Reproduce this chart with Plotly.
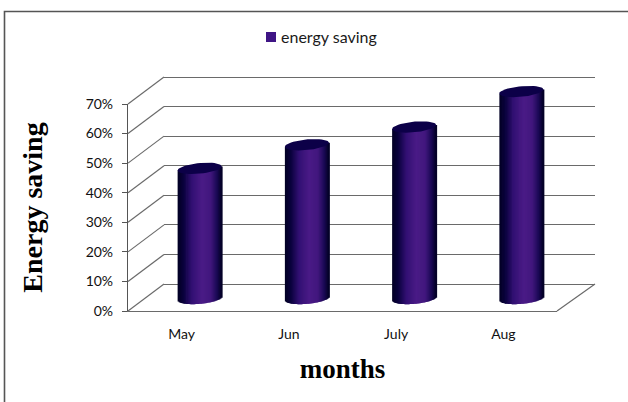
import plotly.graph_objects as go
import math

months = ["May", "Jun", "July", "Aug"]
energy_saving = [44, 52, 58, 70]
y_ticks = [0, 10, 20, 30, 40, 50, 60, 70]
y_tick_labels = ["0%", "10%", "20%", "30%", "40%", "50%", "60%", "70%"]
series_name = "energy saving"

W, H = 628, 402
PX_PER_UNIT = (311 - 104) / 70
PAD = 4  # value units of spare room so caps, bases and edge gridlines are not clipped
FRONT = dict(x0=128, x1=557, y0=311, y1=104)
BACK = dict(x0=164, x1=595, y0=284 + PAD * PX_PER_UNIT, y1=77 - PAD * PX_PER_UNIT)
MID = dict(x0=146, x1=575, y0=298.5 + PAD * PX_PER_UNIT, y1=91.5 - PAD * PX_PER_UNIT)
CAT_PX = (557 - 128) / 4
BAR_HALF_PX = 22.0
CAP_MINOR_PX = 5.3
CAP_TILT_PX = 2.0
GRID = "#6a6a6a"
LINE = "#555555"
SWATCH = "#3f1585"
stops = [(0.0, (2, 0, 35)), (0.14, (10, 2, 62)), (0.32, (50, 16, 115)), (0.55, (74, 27, 134)), (0.75, (66, 23, 126)), (0.9, (24, 8, 82)), (1.0, (2, 0, 35))]


def shade(f):
    for (a, ca), (b, cb) in zip(stops, stops[1:]):
        if f <= b:
            k = (f - a) / (b - a)
            return "rgb(%d,%d,%d)" % tuple(round(p + (q - p) * k) for p, q in zip(ca, cb))
    return "rgb(2,0,35)"


def dom_x(p):
    return [p["x0"] / W, p["x1"] / W]


def dom_y(p):
    return [1 - p["y0"] / H, 1 - p["y1"] / H]


fig = go.Figure()
n = 44
for k in range(n):
    u0 = -1 + 2 * k / n
    um = u0 + 1 / n
    base_px = (CAP_MINOR_PX * math.sqrt(max(0, 1 - um * um)) - CAP_TILT_PX * um) / PX_PER_UNIT
    top_px = CAP_TILT_PX * um / PX_PER_UNIT
    base = [-base_px for _ in energy_saving]
    heights = [v + top_px + base_px for v in energy_saving]
    fig.add_trace(go.Bar(
        x=list(range(len(months))), y=heights, base=base,
        width=(2 * BAR_HALF_PX / n + 1.0) / CAT_PX,
        offset=(u0 * BAR_HALF_PX) / CAT_PX,
        marker=dict(color=shade((um + 1) / 2), line=dict(width=0)),
        showlegend=False, hoverinfo="skip", xaxis="x3", yaxis="y3",
    ))

for i, v in enumerate(energy_saving):
    xs, ys = [], []
    for d in range(0, 361, 8):
        t = math.radians(d)
        xs.append(i + BAR_HALF_PX * math.cos(t) / CAT_PX)
        ys.append(v + (CAP_MINOR_PX * math.sin(t) + CAP_TILT_PX * math.cos(t)) / PX_PER_UNIT)
    fig.add_trace(go.Scatter(x=xs, y=ys, mode="lines", fill="toself", fillcolor="#0c0048",
                             line=dict(width=0), showlegend=False, hoverinfo="skip",
                             xaxis="x3", yaxis="y3"))

shapes = [
    dict(type="rect", xref="paper", yref="paper", x0=4.5 / W, x1=1.05, y0=-0.05, y1=1 - 11.5 / H,
         line=dict(color=LINE, width=1.6), layer="below"),
    dict(type="rect", xref="paper", yref="paper", x0=266 / W, x1=276 / W, y0=1 - 42 / H, y1=1 - 32 / H,
         fillcolor=SWATCH, line=dict(width=0), layer="above"),
]
for t in y_ticks:
    py_f = FRONT["y0"] - t * PX_PER_UNIT
    py_b = 284 - t * PX_PER_UNIT
    shapes.append(dict(type="line", xref="paper", yref="paper", x0=FRONT["x0"] / W, x1=BACK["x0"] / W,
                       y0=1 - py_f / H, y1=1 - py_b / H, line=dict(color=GRID, width=1.2), layer="below"))
shapes.append(dict(type="line", xref="paper", yref="paper", x0=FRONT["x1"] / W, x1=BACK["x1"] / W,
                   y0=1 - FRONT["y0"] / H, y1=1 - 284 / H, line=dict(color=GRID, width=1.2), layer="below"))

tick_font = dict(family="Lato, sans-serif", size=14, color="#111111")
title_font = dict(family="Liberation Serif, serif", color="#000000")
cat_range = [-0.5, len(months) - 0.5]
val_range = [0, 70]
pad_range = [-PAD, 70 + PAD]

fig.update_layout(
    width=W, height=H, margin=dict(l=0, r=0, t=0, b=0, autoexpand=False), autosize=False,
    paper_bgcolor="white", plot_bgcolor="rgba(0,0,0,0)", barmode="overlay",
    shapes=shapes, hovermode=False,
    legend=dict(x=241 / W, y=1 - 20 / H, xanchor="left", yanchor="top", orientation="h",
                font=dict(family="Lato, sans-serif", size=16, color="#1a1a1a"),
                bgcolor="rgba(0,0,0,0)", itemclick=False, itemdoubleclick=False),
    xaxis=dict(domain=dom_x(FRONT), range=cat_range, anchor="y", tickmode="array", automargin=False,
               tickvals=list(range(len(months))), ticktext=months, showgrid=False, zeroline=False,
               showline=True, linecolor=GRID, linewidth=1.2, ticks="", tickfont=tick_font, ticklabelstandoff=10,
               title=dict(text="<b>months</b>", font=dict(size=27, **title_font), standoff=18)),
    yaxis=dict(domain=dom_y(FRONT), range=val_range, anchor="x", tickmode="array", automargin=False,
               tickvals=y_ticks, ticktext=y_tick_labels, showgrid=False, zeroline=False,
               showline=True, linecolor=LINE, linewidth=1.2, ticks="outside", ticklen=5, tickcolor=LINE,
               tickfont=tick_font, ticklabelstandoff=6,
               title=dict(text="<b>Energy saving</b>", font=dict(size=28, **title_font), standoff=34)),
    xaxis2=dict(domain=dom_x(BACK), range=cat_range, anchor="y2", visible=False),
    yaxis2=dict(domain=dom_y(BACK), range=pad_range, anchor="x2", tickmode="array", tickvals=y_ticks,
                showticklabels=False, showgrid=True, gridcolor=GRID, gridwidth=1.2, zeroline=False, showline=False, ticks=""),
    xaxis3=dict(domain=dom_x(MID), range=cat_range, anchor="y3", visible=False),
    yaxis3=dict(domain=dom_y(MID), range=pad_range, anchor="x3", visible=False),
)
fig.add_trace(go.Scatter(x=[0], y=[0], mode="markers", marker=dict(opacity=0), showlegend=False,
                         hoverinfo="skip", xaxis="x2", yaxis="y2"))
fig.add_trace(go.Scatter(x=[None], y=[None], mode="markers",
                         marker=dict(symbol="square", size=1, color="rgba(0,0,0,0)", line=dict(width=0)),
                         name=series_name, showlegend=True, hoverinfo="skip", xaxis="x", yaxis="y"))
fig.write_html("out.html", config=dict(displayModeBar=False),
               post_script="document.body.style.margin='0';document.documentElement.style.overflow='hidden';")
